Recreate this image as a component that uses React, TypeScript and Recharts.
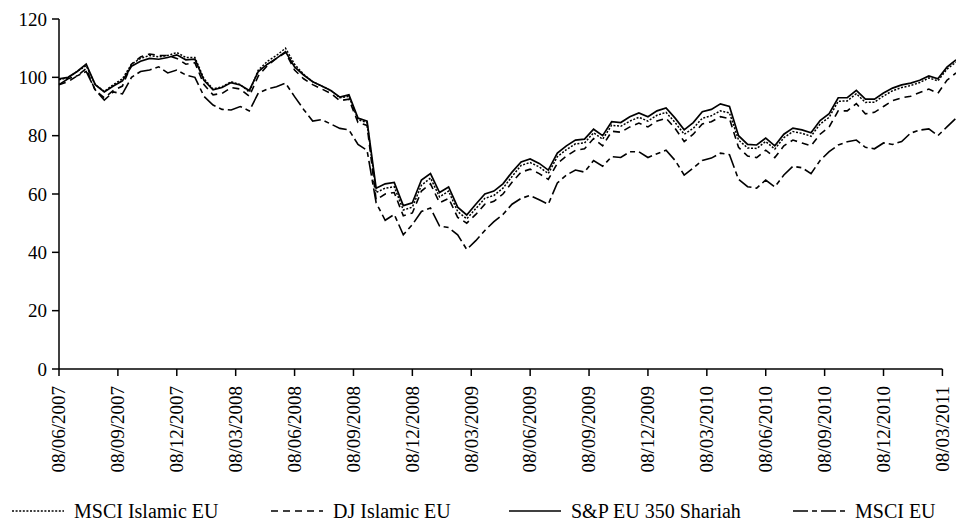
import { LineChart, Line, XAxis, YAxis, Legend, ReferenceLine } from 'recharts';

// week index from 08/06/2007, one point every two weeks
const weeks = [
  0, 2, 4, 6, 8, 10, 12, 14, 16, 18, 20, 22, 24, 26, 28, 30, 32, 34, 36, 38,
  40, 42, 44, 46, 48, 50, 52, 54, 56, 58, 60, 62, 64, 66, 68, 70, 72, 74, 76, 78,
  80, 82, 84, 86, 88, 90, 92, 94, 96, 98, 100, 102, 104, 106, 108, 110, 112, 114, 116, 118,
  120, 122, 124, 126, 128, 130, 132, 134, 136, 138, 140, 142, 144, 146, 148, 150, 152, 154, 156, 158,
  160, 162, 164, 166, 168, 170, 172, 174, 176, 178, 180, 182, 184, 186, 188, 190, 192, 194, 196, 198,
];

const msciIslamic = [
  99.2, 99.8, 102, 104, 97.5, 95.2, 97.5, 99.5, 104.5, 106.5, 107.5, 107, 107.5, 108.5, 106.8, 106.8, 99.5, 96, 96.8, 98.5,
  97.5, 95, 102.5, 105.5, 107.5, 110, 104.5, 101, 98.5, 97, 95.5, 93, 93.5, 85.5, 84.5, 60.5, 62, 62.5, 54.5, 55.5,
  63, 65.5, 59, 61, 54, 51.5, 55, 58.5, 59.5, 62, 66, 69.8, 70.8, 69.3, 67, 72.8, 75.2, 77.2, 77.5, 81,
  78.8, 83.6, 83.2, 85, 86.3, 85, 87, 88, 84.5, 80.5, 82.5, 86, 86.8, 88.5, 87.8, 78.5, 75.8, 75.6, 78, 75.4,
  79.3, 81.4, 80.8, 79.8, 84, 86.3, 91.8, 91.9, 94.4, 91.4, 91.5, 93.6, 95.4, 96.5, 97.2, 98.2, 99.8, 98.8, 102.8, 105.2,
];

const djIslamic = [
  97.5, 98.5, 100.5, 103, 95.5, 93, 95.5, 97, 104.5, 107, 108, 107.5, 107.5, 106.5, 104.5, 105, 97.5, 94, 94.5, 96.5,
  96, 93.5, 100.5, 104, 106.5, 108.5, 102.5, 99.5, 97.5, 96, 94.5, 92, 92.5, 84.5, 83.5, 58, 60, 60.5, 52.5, 53.5,
  61, 63.5, 57, 58.5, 52, 50, 53, 56.5, 57.5, 60, 64, 67.5, 68.5, 67, 65, 70.5, 73, 75, 75.5, 79,
  76.5, 81.5, 81.2, 83, 84.3, 83, 85, 86, 82.5, 78, 80.5, 84, 84.8, 86.5, 85.8, 76, 73, 72.5, 75, 72.5,
  76.5, 78.5, 77.5, 76.5, 80.5, 83, 88.5, 88.5, 91, 87.5, 88, 90, 92, 93, 93.5, 94.8, 96, 94.5, 99, 101.5,
];

const spShariah = [
  99.5, 100, 102, 104.5, 97.5, 95, 97, 98.8, 103.8, 105.5, 106.5, 106.2, 106.8, 107.7, 106, 106.2, 99, 95.7, 96.5, 98.2,
  97.4, 95.5, 102, 104.5, 106.5, 108.8, 103.6, 100.8, 98.5, 97, 95.5, 93.2, 94, 86, 85, 62, 63.5, 64, 56, 57,
  64.8, 67, 60.5, 62.4, 55.5, 52.8, 56.5, 60, 61, 63.5, 67.5, 71, 72, 70.5, 68.2, 74, 76.5, 78.5, 78.8, 82.2,
  80, 84.8, 84.5, 86.5, 87.8, 86.5, 88.5, 89.5, 86, 82, 84.5, 88.2, 89, 90.9, 90, 80, 77, 76.8, 79.2, 76.5,
  80.5, 82.6, 82, 81, 85.2, 87.5, 93, 93, 95.5, 92.5, 92.5, 94.6, 96.3, 97.4, 98, 99, 100.5, 99.5, 103.5, 106,
];

const msciEu = [
  97.5, 99.5, 100.5, 102, 95.7, 92.2, 95, 94.3, 100, 102, 102.5, 103.6, 101.5, 102.5, 100.8, 100, 93.5, 90.5, 89, 88.8,
  90, 88.5, 94.6, 96, 96.8, 98, 93.4, 89, 85, 85.5, 84, 82.5, 82, 77, 75, 57, 51, 53, 46, 49.5,
  54, 55.2, 49, 48.5, 46, 41, 44, 47.5, 50.5, 53, 56.5, 58.5, 59.5, 58, 56.5, 63.8, 66.5, 68.2, 67.5, 71.5,
  69.5, 72.8, 72.5, 74.5, 74.5, 72.5, 73.8, 75, 71.5, 66.5, 68.9, 71.5, 72.3, 74, 73.5, 65, 62.5, 62, 64.8, 62.4,
  66.5, 69.5, 69, 67, 71.5, 74.5, 76.8, 77.9, 78.5, 76, 75.5, 77.5, 77, 78, 80.9, 81.9, 82.3, 80, 83, 86,
];

const tickWeeks = [0, 13, 26, 39, 52, 65, 78, 91, 104, 117, 130, 143, 156, 169, 182, 195];
const tickLabels = [
  '08/06/2007', '08/09/2007', '08/12/2007', '08/03/2008', '08/06/2008', '08/09/2008', '08/12/2008', '08/03/2009',
  '08/06/2009', '08/09/2009', '08/12/2009', '08/03/2010', '08/06/2010', '08/09/2010', '08/12/2010', '08/03/2011',
];
const yTicks = [0, 20, 40, 60, 80, 100, 120];

const rows = weeks.map((w, i) => ({
  week: w,
  msciIslamic: msciIslamic[i],
  djIslamic: djIslamic[i],
  spShariah: spShariah[i],
  msciEu: msciEu[i],
}));

const series = [
  { key: 'msciIslamic', name: 'MSCI Islamic EU', dash: '2 1.6', width: 1.5, left: 12 },
  { key: 'djIslamic', name: 'DJ Islamic EU', dash: '7 5', width: 1.6, left: 271 },
  { key: 'spShariah', name: 'S&P EU 350 Shariah', dash: undefined, width: 1.7, left: 509 },
  { key: 'msciEu', name: 'MSCI EU', dash: '15 4 5 4', width: 1.6, left: 793 },
];

const FONT = '"Liberation Serif", "DejaVu Serif", serif';

const DateTick = (props: any) => {
  const { x, y, payload } = props;
  const idx = tickWeeks.indexOf(payload.value);
  return (
    <g transform={`translate(${x},${y})`}>
      <text transform="rotate(-90)" x={-8} y={0} dy="0.33em" textAnchor="end" fill="#000" fontSize={19} fontFamily={FONT}>
        {tickLabels[idx]}
      </text>
    </g>
  );
};

const LegendRow = () => (
  <div style={{ position: 'relative', width: 956, height: 24, fontFamily: FONT, fontSize: 20, color: '#000' }}>
    {series.map(s => (
      <div key={s.key} style={{ position: 'absolute', left: s.left, top: 0, height: 24, display: 'flex', alignItems: 'center', whiteSpace: 'nowrap' }}>
        <svg width={52} height={10} style={{ marginRight: 10 }}>
          <line x1={0} y1={5} x2={52} y2={5} stroke="#000" strokeWidth={s.width} strokeDasharray={s.dash} />
        </svg>
        <span>{s.name}</span>
      </div>
    ))}
  </div>
);

export default function App() {
  return (
    <div style={{ position: 'absolute', left: 0, top: 0, width: 956, height: 531, background: '#fff', fontFamily: FONT }}>
      <LineChart width={956} height={531} data={rows} margin={{ top: 19, right: 0, left: 0, bottom: 8 }}>
        <XAxis
          type="number"
          dataKey="week"
          domain={[0, 198]}
          ticks={tickWeeks}
          interval={0}
          axisLine={false}
          tickLine={{ stroke: '#000', strokeWidth: 1.5 }}
          tickSize={7}
          tickMargin={2}
          height={130}
          tick={<DateTick />}
        />
        <YAxis
          width={59}
          domain={[0, 120]}
          ticks={yTicks}
          interval={0}
          axisLine={{ stroke: '#000', strokeWidth: 1.5 }}
          tickLine={{ stroke: '#000', strokeWidth: 1.5 }}
          tickSize={7}
          tickMargin={5}
          tick={{ fill: '#000', fontSize: 19, fontFamily: FONT }}
        />
        <ReferenceLine segment={[{ x: 0, y: 0 }, { x: 195, y: 0 }]} stroke="#000" strokeWidth={1.5} />
        {series.map(s => (
          <Line
            key={s.key}
            type="linear"
            dataKey={s.key}
            name={s.name}
            stroke="#000"
            strokeWidth={s.width}
            strokeDasharray={s.dash}
            dot={false}
            activeDot={false}
            isAnimationActive={false}
          />
        ))}
        <Legend verticalAlign="bottom" content={<LegendRow />} />
      </LineChart>
    </div>
  );
}
